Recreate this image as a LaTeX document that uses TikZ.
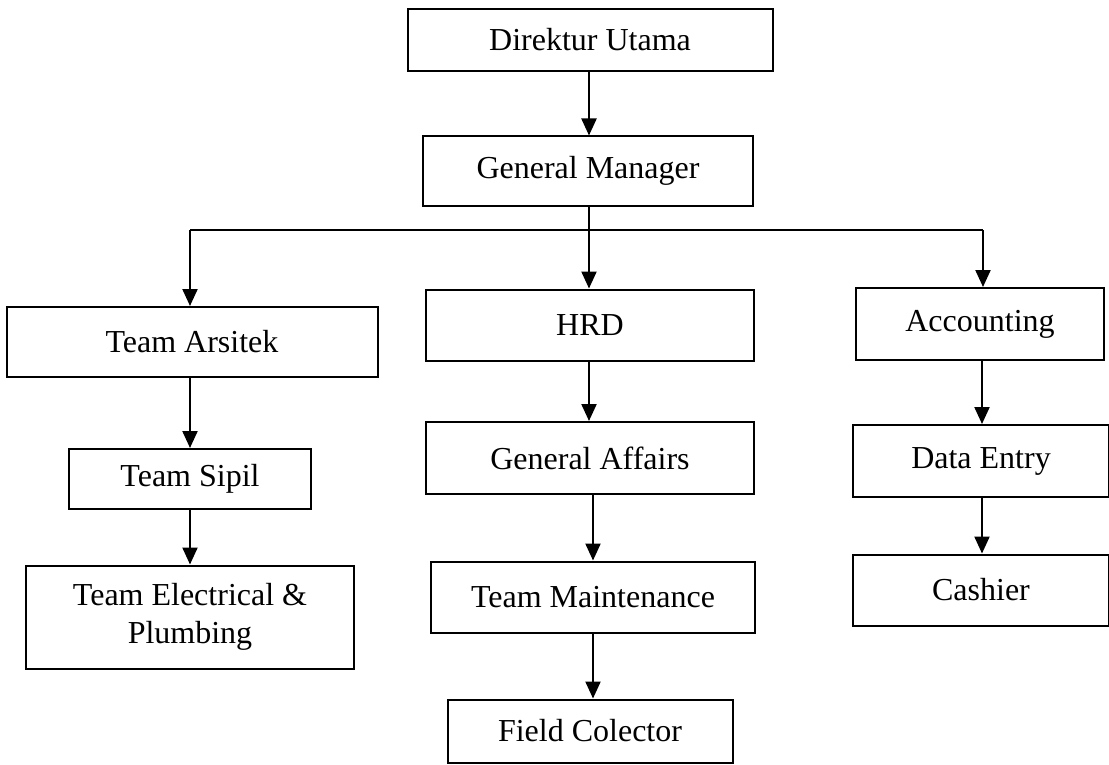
\documentclass[tikz,border=0pt]{standalone}
\usepackage{fontspec}
\setmainfont{Liberation Serif}
\usetikzlibrary{arrows.meta}
\tikzset{
    orgbox/.style={rectangle, draw=black, line width=2pt, fill=white, align=center, inner sep=0pt,
        font=\fontsize{32}{38}\selectfont},
    arr/.style={-{Triangle[length=17pt,width=15pt]}, line width=2.2pt},
    bus/.style={line width=2.2pt},
}
\begin{document}
\begin{tikzpicture}[x=1pt, y=-1pt]
    \useasboundingbox (0,0) rectangle (1109,765);

    % top of the chart
    \node[orgbox, minimum width=365pt, minimum height=62pt] (dir) at (590,40) {Direktur Utama};
    \node[orgbox, minimum width=330pt, minimum height=69pt] (gm) at (588,171) {General Manager};

    % left branch
    \node[orgbox, minimum width=371pt, minimum height=70pt] (arsitek) at (192,342) {Team Arsitek};
    \node[orgbox, minimum width=242pt, minimum height=60pt] (sipil) at (190,479) {Team Sipil};
    \node[orgbox, minimum width=328pt, minimum height=103pt] (elec) at (190,617) {Team Electrical \&\\Plumbing};

    % middle branch
    \node[orgbox, minimum width=328pt, minimum height=71pt] (hrd) at (590,325) {HRD};
    \node[orgbox, minimum width=328pt, minimum height=72pt] (ga) at (590,458) {General Affairs};
    \node[orgbox, minimum width=324pt, minimum height=71pt] (tm) at (593,597) {Team Maintenance};
    \node[orgbox, minimum width=285pt, minimum height=63pt] (fc) at (590,731) {Field Colector};

    % right branch
    \node[orgbox, minimum width=248pt, minimum height=72pt] (acc) at (980,324) {Accounting};
    \node[orgbox, minimum width=256pt, minimum height=72pt] (de) at (981,461) {Data Entry};
    \node[orgbox, minimum width=256pt, minimum height=71pt] (cash) at (981,590) {Cashier};

    % bus line below the General Manager
    \coordinate (busL) at (190,230);
    \coordinate (busR) at (983,230);
    \coordinate (busM) at (589,230);
    \draw[bus] (busL) -- (busR);

    % connectors
    \draw[arr] (busM |- dir.south) -- (busM |- gm.north);
    \draw[arr] (busM |- gm.south) -- (busM |- hrd.north);
    \draw[arr] (busL) -- (busL |- arsitek.north);
    \draw[arr] (busR) -- (busR |- acc.north);

    \draw[arr] (sipil.north |- arsitek.south) -- (sipil.north);
    \draw[arr] (sipil.south) -- (sipil.south |- elec.north);

    \draw[arr] (busM |- hrd.south) -- (busM |- ga.north);
    \draw[arr] (tm.north |- ga.south) -- (tm.north);
    \draw[arr] (tm.south) -- (tm.south |- fc.north);

    \draw[arr] (982,0 |- acc.south) -- (982,0 |- de.north);
    \draw[arr] (982,0 |- de.south) -- (982,0 |- cash.north);
\end{tikzpicture}
\end{document}
